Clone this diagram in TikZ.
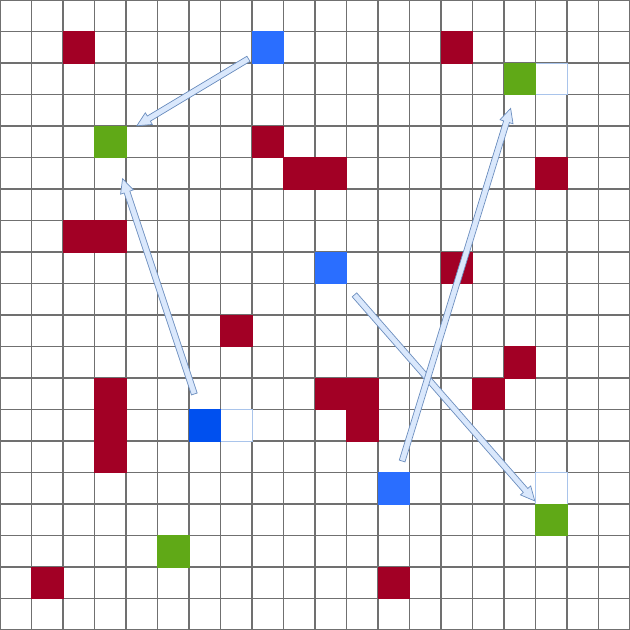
\documentclass[tikz,border=0pt]{standalone}
\usetikzlibrary{calc}
\definecolor{cellred}{HTML}{A20025}
\definecolor{cellgreen}{HTML}{60A917}
\definecolor{cellblue}{HTML}{2A6EFF}
\definecolor{celldblue}{HTML}{0050EF}
\definecolor{gridgray}{HTML}{707070}
\definecolor{arrfill}{HTML}{DAE8FC}
\definecolor{arrline}{HTML}{6C8EBF}
\definecolor{hiline}{HTML}{A9C4EB}
\tikzset{
  cell/.style={rectangle, minimum size=31.5pt, inner sep=0pt, outer sep=0pt},
  redcell/.style={cell, fill=cellred, draw=cellred, line width=0.4pt},
  greencell/.style={cell, fill=cellgreen, draw=cellgreen, line width=0.4pt},
  bluecell/.style={cell, fill=cellblue, draw=cellblue, line width=0.4pt},
  dbluecell/.style={cell, fill=celldblue, draw=celldblue, line width=0.4pt},
  hicell/.style={cell, fill=white, draw=hiline, line width=0.8pt},
  gridline/.style={draw=gridgray, line width=1.4pt},
  fatarrow/.style={fill=arrfill, draw=arrline, line width=0.7pt, line join=miter},
}
\newcommand\fatarr[4]{%
  \path ($(#1.center)!#3!(#2.center)$) coordinate (S)
        ($(#2.center)!#4!(#1.center)$) coordinate (E);
  \path ($(E)!14pt!(S)$) coordinate (N);
  \draw[fatarrow] ($(S)!3pt!90:(E)$) -- ($(N)!3pt!-90:(S)$) -- ($(N)!6.8pt!-90:(S)$)
    -- (E) -- ($(N)!6.8pt!90:(S)$) -- ($(N)!3pt!90:(S)$) -- ($(S)!3pt!-90:(E)$) -- cycle;}
\begin{document}
\begin{tikzpicture}[x=31.5pt, y=-31.5pt]
\useasboundingbox (0,0) rectangle (20,20);
\fill[white] (0,0) rectangle (20,20);
% grid
\foreach \i in {0,...,20} {
  \draw[gridline] (\i,0) -- (\i,20);
  \draw[gridline] (0,\i) -- (20,\i);
}
% red cells
\foreach \c/\r [count=\k] in {2/1,14/1,8/4,9/5,10/5,17/5,2/7,3/7,14/8,7/10,16/11,3/12,10/12,11/12,15/12,3/13,11/13,3/14,1/18,12/18} {
  \node[redcell] (red\k) at (\c+0.5,\r+0.5) {};
}
% highlighted white cells
\node[hicell] (h1) at (17.5,2.5) {};
\node[hicell] (h2) at (7.5,13.5) {};
\node[hicell] (h3) at (17.5,15.5) {};
% green cells
\node[greencell] (g1) at (3.5,4.5) {};
\node[greencell] (g2) at (16.5,2.5) {};
\node[greencell] (g3) at (17.5,16.5) {};
\node[greencell] (g4) at (5.5,17.5) {};
% blue cells
\node[bluecell] (b1) at (8.5,1.5) {};
\node[bluecell] (b2) at (10.5,8.5) {};
\node[bluecell] (b3) at (12.5,15.5) {};
\node[dbluecell] (b4) at (6.5,13.5) {};
% arrows
\fatarr{b1}{g1}{22.5pt}{31pt}
\fatarr{b4}{g1}{33pt}{39pt}
\fatarr{b2}{g3}{36pt}{25pt}
\fatarr{b3}{g2}{28.5pt}{31pt}
\end{tikzpicture}
\end{document}
